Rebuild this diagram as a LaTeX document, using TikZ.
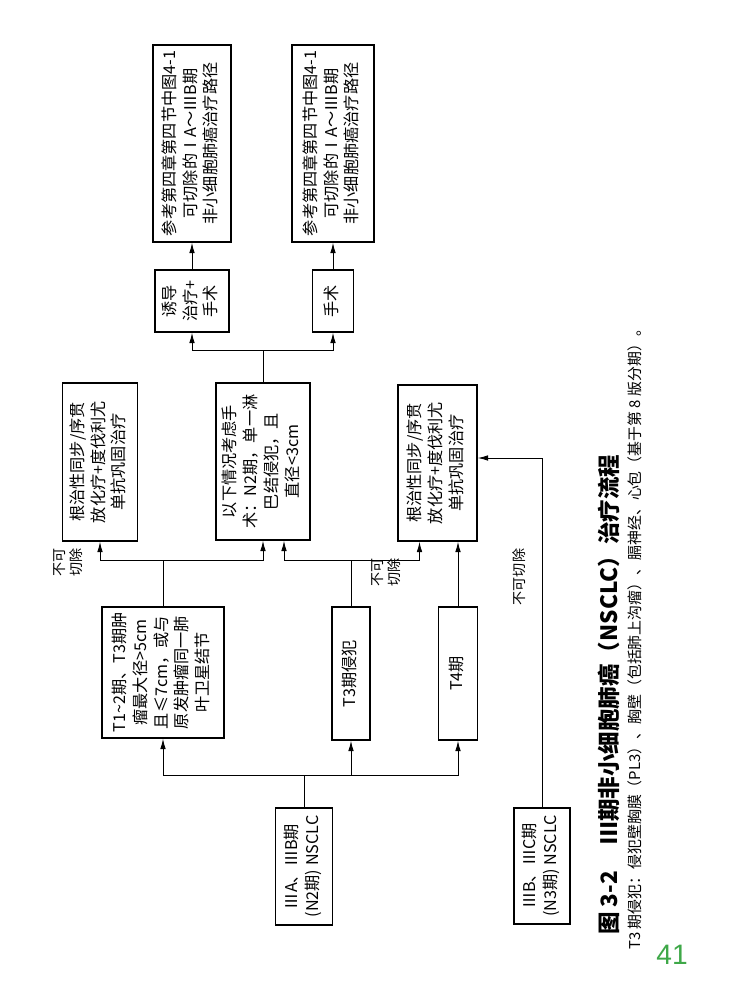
\documentclass[tikz,border=0pt]{standalone}
\usepackage{fontspec}
\setmainfont{Noto Sans CJK SC}
\newfontfamily\pagefont{Liberation Sans}
\usepackage{graphicx}
\usetikzlibrary{arrows.meta,calc}
\definecolor{pagegreen}{RGB}{62,168,72}
% rotated multi-line text (page is turned by 90 degrees)
\newcommand{\vt}[1]{\rotatebox{90}{\begin{tabular}{@{}c@{}}#1\end{tabular}}}

\begin{document}
\begin{tikzpicture}[x=0.025cm,y=-0.025cm,
  box/.style={draw,line width=1.1pt,inner sep=0pt,font=\fontsize{11.5}{14.8}\selectfont},
  lbl/.style={inner sep=0pt,font=\fontsize{10}{12}\selectfont},
  ln/.style={line width=0.6pt},
  arr/.style={line width=0.6pt,-{Latex[length=2.6mm,width=1.4mm]}}]
\useasboundingbox[fill=white] (0,0) rectangle (730,993);

% top row: references
\node[box,minimum width=1.95cm,minimum height=4.925cm] (ref1) at (192,143.5)
  {\vt{参考第四章第四节中图4-1\\可切除的ⅠA～ⅢB期\\非小细胞肺癌治疗路径}};
\node[box,minimum width=2.05cm,minimum height=4.925cm] (ref2) at (333,143.5)
  {\vt{参考第四章第四节中图4-1\\可切除的ⅠA～ⅢB期\\非小细胞肺癌治疗路径}};
\node[box,minimum width=1.85cm,minimum height=1.55cm] (ind) at (192,301) {\vt{诱导\\治疗+\\手术}};
\node[box,minimum width=1.025cm,minimum height=1.55cm] (surg) at (333,301) {\vt{手术}};

% treatment boxes
\node[box,minimum width=1.875cm,minimum height=3.95cm] (rad1) at (100,462)
  {\vt{根治性同步/序贯\\放化疗+度伐利尤\\单抗巩固治疗}};
\node[box,minimum width=2.35cm,minimum height=3.925cm] (mid) at (263,461.5)
  {\vt{以下情况考虑手\\术：N2期，单一淋\\巴结侵犯，且\\直径<3cm}};
\node[box,minimum width=1.975cm,minimum height=3.9cm] (rad2) at (437.5,463)
  {\vt{根治性同步/序贯\\放化疗+度伐利尤\\单抗巩固治疗}};

% T stages
\node[box,minimum width=3.05cm,minimum height=3.275cm] (t1) at (163,672.5)
  {\vt{T1\textasciitilde 2期、T3期肿\\瘤最大径>5cm\\且≤7cm，或与\\原发肿瘤同一肺\\叶卫星结节}};
\node[box,minimum width=0.95cm,minimum height=3.325cm] (t3) at (351,673.5) {\vt{T3期侵犯}};
\node[box,minimum width=0.975cm,minimum height=3.325cm] (t4) at (458,673.5) {\vt{T4期}};

% entry boxes
\node[box,minimum width=1.425cm,minimum height=2.925cm] (n2) at (304,866.5)
  {\vt{ⅢA、ⅢB期\\(N2期) NSCLC}};
\node[box,minimum width=1.4cm,minimum height=2.9cm] (n3) at (542,866)
  {\vt{ⅢB、ⅢC期\\(N3期) NSCLC}};

% junctions
\coordinate (jn2) at (304,775);
\coordinate (jt1) at (163,560);
\coordinate (jt3) at (351,560);
\coordinate (jm) at (263,350);

\draw[ln] (n2.north) -- (jn2);
\draw[arr] (jn2) -| (t1.south);
\draw[arr] (jn2) -| (t4.south);
\draw[arr] (t3.south |- jn2) -- (t3.south);

\draw[ln] (t1.north) -- (jt1);
\draw[arr] (jt1) -| (rad1.south);
\draw[arr] (jt1) -| (mid.south);
\draw[ln] (t3.north) -- (jt3);
\draw[arr] (jt3) -| ($(mid.south)+(21,0)$);
\draw[arr] (jt3) -| ($(rad2.south)+(-18,0)$);
\draw[arr] (t4.north) -- (t4.north |- rad2.south);
\draw[arr] (n3.north) |- ($(rad2.east)+(0,-5)$);

\draw[ln] (mid.north) -- (jm);
\draw[arr] (jm) -| (ind.south);
\draw[arr] (jm) -| (surg.south);
\draw[arr] (ind.north) -- (ref1.south);
\draw[arr] (surg.north) -- (ref2.south);

% labels
\node[lbl] (cut1) at (70,562) {\vt{不可\\切除}};
\node[lbl] (cut2) at (388,572) {\vt{不可\\切除}};
\node[lbl] (cut3) at (521,577) {\vt{不可切除}};

% caption
\node[anchor=south,inner sep=0pt] (title) at (609,935)
  {\rotatebox{90}{\fontsize{16}{18}\selectfont\bfseries 图 3-2\hspace{1.2em}Ⅲ期非小细胞肺癌（NSCLC）治疗流程}};
\node[anchor=south,inner sep=0pt] (note) at (635,950)
  {\rotatebox{90}{\fontsize{10.6}{12}\selectfont T3 期侵犯：侵犯壁胸膜（PL3）、胸壁（包括肺上沟瘤）、膈神经、心包（基于第 8 版分期）。}};
\node[inner sep=0pt] (page) at (672,955) {\pagefont\fontsize{20}{22}\selectfont\color{pagegreen}41};
\end{tikzpicture}
\end{document}
